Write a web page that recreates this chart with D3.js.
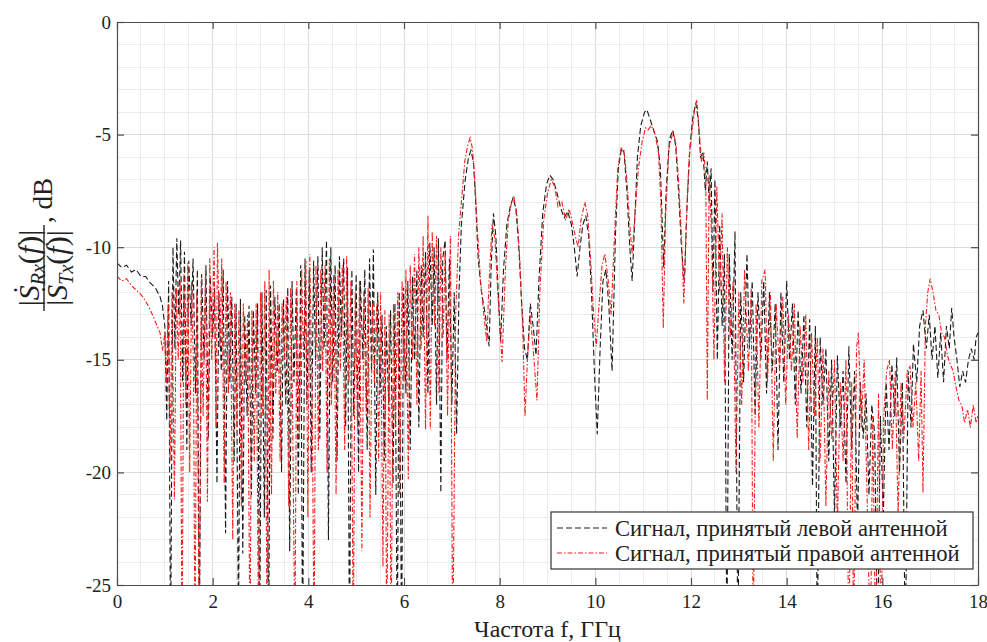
<!DOCTYPE html>
<html>
<head>
<meta charset="utf-8">
<script src="https://cdn.jsdelivr.net/npm/d3@7"></script>
<style>
  body { margin: 0; background: #fff; }
  svg text { font-family: "Liberation Serif", "Times New Roman", "DejaVu Serif", serif; }
</style>
</head>
<body>
<script>
// values: [frequency GHz, level dB]; -28 = dip below the axis
const leftAntenna = [
  [0,-10.7],[0.1,-10.9],[0.2,-10.8],[0.3,-11.1],[0.4,-11.0],[0.5,-11.3],[0.6,-11.3],[0.7,-11.6],[0.8,-11.8],[0.9,-12.2],[0.95,-12.6],
  [1.0,-13.5],[1.04,-17.7],[1.08,-11.5],[1.12,-28],[1.17,-10.0],[1.21,-14.5],[1.25,-9.6],[1.29,-13.0],[1.33,-9.7],[1.37,-16.0],
  [1.41,-10.2],[1.46,-19.0],[1.5,-10.6],[1.55,-13.5],[1.59,-10.5],[1.64,-16.5],[1.68,-11.0],[1.72,-28],[1.77,-11.2],[1.82,-15.0],
  [1.86,-10.8],[1.91,-18.5],[1.95,-11.3],[2.0,-14.0],[2.04,-11.8],[2.09,-20.5],[2.13,-12.0],[2.18,-15.5],[2.22,-11.0],[2.27,-22.7],
  [2.31,-11.5],[2.36,-16.0],[2.4,-12.2],[2.45,-19.5],[2.49,-12.5],[2.54,-27],[2.58,-12.3],[2.63,-23.6],[2.67,-13.0],[2.72,-17.5],
  [2.76,-12.6],[2.81,-21.0],[2.85,-12.8],[2.9,-16.5],[2.94,-12.5],[2.98,-28],[3.03,-12.0],[3.08,-22.0],[3.12,-11.9],[3.17,-28],
  [3.21,-11.7],[3.26,-18.5],[3.3,-12.2],[3.35,-15.5],[3.39,-12.5],[3.44,-20.0],[3.48,-12.3],[3.53,-17.0],[3.57,-11.8],[3.61,-23.5],
  [3.66,-11.5],[3.7,-16.0],[3.75,-11.8],[3.79,-21.0],[3.84,-10.8],[3.88,-28],[3.93,-10.5],[3.97,-17.0],[4.02,-11.0],[4.06,-20.0],
  [4.11,-10.6],[4.15,-15.0],[4.2,-10.4],[4.24,-18.5],[4.29,-10.0],[4.33,-14.5],[4.38,-9.7],[4.42,-23.0],[4.47,-10.0],[4.51,-16.0],
  [4.56,-10.8],[4.6,-19.5],[4.65,-10.4],[4.69,-14.0],[4.74,-10.5],[4.78,-18.0],[4.82,-10.9],[4.86,-28],[4.91,-11.0],[4.95,-17.5],
  [5.0,-11.2],[5.05,-20.0],[5.09,-11.5],[5.14,-15.0],[5.18,-11.0],[5.23,-19.0],[5.28,-10.5],[5.32,-15.5],[5.36,-10.1],[5.41,-21.0],
  [5.45,-12.0],[5.5,-16.5],[5.54,-13.0],[5.59,-19.5],[5.63,-13.5],[5.68,-17.0],[5.72,-12.8],[5.77,-20.5],[5.81,-12.5],[5.86,-28],
  [5.9,-12.0],[5.95,-28],[5.99,-11.8],[6.04,-16.5],[6.08,-11.5],[6.13,-19.0],[6.18,-11.3],[6.22,-15.0],[6.27,-11.0],[6.31,-18.0],
  [6.36,-10.8],[6.4,-14.0],[6.45,-10.2],[6.5,-16.5],[6.54,-9.8],[6.59,-13.5],[6.63,-10.0],[6.68,-17.0],[6.72,-9.6],[6.77,-20.9],
  [6.81,-10.5],[6.86,-9.7],[6.9,-15.0],[6.95,-10.5],[7.0,-17.0],[7.05,-12.0],[7.1,-18.3],[7.15,-12.0],
  [7.2,-9.0],[7.28,-7.0],[7.35,-6.0],[7.4,-5.7],[7.45,-6.2],[7.5,-8.0],[7.55,-10.5],[7.62,-12.0],[7.7,-13.0],[7.78,-14.4],
  [7.82,-11.0],[7.87,-8.5],[7.92,-9.5],[7.97,-12.0],[8.02,-14.2],[8.08,-11.0],[8.15,-9.0],[8.22,-8.2],[8.28,-7.8],[8.34,-8.3],
  [8.4,-10.0],[8.46,-12.5],[8.52,-14.5],[8.58,-15.0],[8.64,-12.5],[8.7,-13.5],[8.76,-14.8],[8.82,-11.5],[8.9,-8.5],[8.98,-7.2],
  [9.05,-6.8],[9.12,-7.0],[9.2,-7.6],[9.28,-8.3],[9.35,-8.7],[9.42,-8.4],[9.5,-9.0],[9.56,-10.0],[9.62,-11.3],[9.68,-10.0],
  [9.74,-9.0],[9.8,-8.6],[9.86,-9.5],[9.92,-12.0],[9.98,-15.5],[10.04,-18.3],[10.1,-14.5],[10.16,-11.5],[10.22,-11.0],[10.28,-12.5],
  [10.35,-15.5],[10.42,-9.5],[10.48,-6.5],[10.55,-5.6],[10.6,-5.8],[10.66,-7.5],[10.72,-10.0],[10.77,-11.5],[10.82,-9.0],[10.88,-6.0],
  [10.95,-4.6],[11.03,-4.0],[11.08,-3.9],[11.14,-4.3],[11.22,-4.8],[11.3,-5.3],[11.36,-6.5],[11.4,-9.0],[11.43,-10.9],[11.48,-7.5],
  [11.55,-5.2],[11.62,-4.8],[11.68,-5.5],[11.74,-7.5],[11.8,-10.0],[11.86,-11.6],[11.92,-8.0],[11.98,-5.5],[12.04,-4.2],[12.1,-3.6],
  [12.15,-4.3],[12.2,-6.0],[12.25,-5.8],[12.3,-7.5],[12.34,-6.2],[12.38,-8.0],[12.42,-6.5],[12.46,-12.0],[12.5,-7.0],[12.55,-15.0],
  [12.6,-9.0],[12.65,-13.5],[12.7,-10.3],[12.75,-28],[12.8,-10.3],[12.86,-15.0],[12.92,-9.3],[12.98,-28],[13.04,-12.0],[13.1,-16.0],
  [13.17,-10.3],[13.22,-14.5],[13.28,-11.5],[13.34,-17.5],[13.4,-12.0],[13.46,-15.0],[13.52,-11.5],[13.58,-16.5],[13.64,-12.0],[13.7,-15.5],
  [13.76,-12.5],[13.82,-19.0],[13.88,-12.0],[13.94,-16.0],[14.0,-11.5],[14.06,-15.0],[14.12,-12.5],[14.18,-17.0],[14.24,-12.8],[14.3,-16.5],
  [14.36,-13.0],[14.42,-18.0],[14.48,-13.2],[14.54,-20.6],[14.6,-13.5],[14.64,-28],[14.7,-14.0],[14.76,-17.0],[14.82,-14.5],[14.88,-19.5],
  [14.94,-15.0],[15.0,-22.0],[15.06,-14.8],[15.12,-18.0],[15.18,-15.5],[15.24,-20.5],[15.3,-14.4],[15.36,-19.0],[15.42,-15.5],[15.48,-22.5],
  [15.54,-16.0],[15.6,-18.5],[15.66,-16.5],[15.72,-21.0],[15.78,-17.0],[15.84,-18.3],[15.9,-28],[15.96,-17.5],[16.02,-22.0],[16.08,-16.0],
  [16.14,-19.0],[16.2,-15.2],[16.26,-17.5],[16.3,-14.9],[16.36,-20.0],[16.42,-16.0],[16.48,-28],[16.54,-15.5],[16.6,-18.0],[16.65,-14.3],
  [16.72,-16.0],[16.78,-13.5],[16.85,-12.8],[16.92,-14.5],[16.98,-13.0],[17.04,-15.0],[17.1,-13.5],[17.16,-15.8],[17.22,-13.8],[17.28,-16.0],
  [17.34,-13.5],[17.4,-14.5],[17.45,-12.7],[17.5,-14.0],[17.56,-15.0],[17.62,-16.2],[17.68,-15.5],[17.74,-16.0],[17.8,-15.0],[17.86,-14.5],
  [17.92,-15.0],[17.96,-14.0],[18.0,-13.8]
];

const rightAntenna = [
  [0,-11.3],[0.1,-11.5],[0.2,-11.4],[0.3,-11.7],[0.4,-11.9],[0.5,-12.1],[0.6,-12.4],[0.7,-12.8],[0.8,-13.3],[0.9,-13.8],[0.95,-14.6],
  [1.0,-13.8],[1.03,-16.0],[1.07,-12.5],[1.11,-19.5],[1.15,-12.0],[1.2,-21.2],[1.24,-11.8],[1.28,-15.0],[1.32,-11.5],[1.36,-28],
  [1.4,-11.2],[1.44,-17.0],[1.48,-10.7],[1.52,-20.0],[1.56,-11.5],[1.6,-15.5],[1.63,-28],[1.67,-12.0],[1.72,-28],[1.76,-11.5],
  [1.8,-17.5],[1.85,-11.0],[1.89,-21.3],[1.94,-10.5],[1.98,-15.0],[2.03,-10.0],[2.07,-18.0],[2.1,-9.8],[2.15,-14.5],[2.19,-10.5],
  [2.24,-20.5],[2.28,-11.5],[2.33,-16.5],[2.37,-12.0],[2.42,-23.0],[2.46,-12.5],[2.51,-18.0],[2.55,-12.8],[2.6,-21.5],[2.64,-12.5],
  [2.69,-16.0],[2.73,-13.0],[2.78,-28],[2.82,-12.8],[2.87,-19.5],[2.91,-12.5],[2.96,-28],[3.0,-12.0],[3.05,-17.5],[3.09,-11.5],
  [3.14,-28],[3.18,-11.0],[3.23,-21.0],[3.27,-11.5],[3.32,-16.5],[3.36,-12.0],[3.41,-19.5],[3.45,-12.5],[3.5,-15.0],[3.54,-12.2],
  [3.59,-21.5],[3.63,-11.8],[3.67,-17.0],[3.72,-28],[3.76,-11.5],[3.81,-18.5],[3.86,-11.0],[3.9,-15.0],[3.95,-10.6],[3.99,-22.0],
  [4.03,-10.3],[4.08,-16.5],[4.12,-28],[4.16,-10.8],[4.21,-19.0],[4.26,-11.0],[4.3,-15.5],[4.35,-10.8],[4.39,-20.0],[4.44,-10.5],
  [4.48,-17.0],[4.53,-11.2],[4.58,-21.0],[4.62,-11.0],[4.67,-15.5],[4.71,-10.8],[4.76,-19.0],[4.8,-10.4],[4.85,-16.0],[4.89,-11.5],
  [4.94,-28],[4.98,-12.0],[5.03,-18.0],[5.07,-11.5],[5.12,-23.5],[5.16,-12.0],[5.21,-17.5],[5.25,-11.8],[5.29,-22.0],[5.34,-12.5],
  [5.38,-16.0],[5.43,-12.5],[5.47,-19.5],[5.51,-12.0],[5.56,-24.2],[5.6,-12.8],[5.64,-28],[5.69,-13.0],[5.73,-28],[5.78,-12.5],
  [5.82,-18.0],[5.87,-12.0],[5.91,-21.0],[5.96,-11.5],[6.0,-16.0],[6.04,-11.0],[6.09,-20.3],[6.13,-10.8],[6.18,-15.0],[6.22,-10.3],
  [6.27,-17.0],[6.31,-10.0],[6.36,-14.5],[6.4,-9.5],[6.45,-18.1],[6.5,-8.6],[6.55,-18.1],[6.59,-9.3],[6.64,-13.5],[6.68,-9.5],
  [6.73,-16.5],[6.77,-10.0],[6.82,-14.0],[6.86,-10.2],[6.91,-17.5],[6.97,-9.5],[7.02,-28],[7.08,-13.0],[7.14,-9.5],
  [7.2,-8.0],[7.27,-6.2],[7.33,-5.5],[7.38,-5.15],[7.43,-5.6],[7.48,-7.0],[7.53,-9.0],[7.6,-11.5],[7.67,-13.0],[7.73,-14.2],
  [7.78,-11.5],[7.84,-9.0],[7.9,-9.6],[7.96,-12.0],[8.05,-15.1],[8.12,-11.0],[8.18,-8.8],[8.24,-8.1],[8.3,-7.8],[8.36,-8.5],
  [8.42,-10.5],[8.48,-13.5],[8.53,-17.5],[8.58,-15.0],[8.64,-13.0],[8.7,-14.5],[8.78,-16.8],[8.84,-12.0],[8.92,-8.8],[9.0,-7.6],
  [9.08,-7.0],[9.15,-7.3],[9.22,-8.2],[9.3,-8.0],[9.38,-8.8],[9.45,-8.3],[9.52,-8.9],[9.58,-9.5],[9.64,-10.0],[9.7,-8.8],
  [9.78,-8.0],[9.84,-8.6],[9.9,-10.5],[9.96,-12.8],[10.02,-14.4],[10.08,-12.5],[10.14,-10.8],[10.2,-10.3],[10.27,-11.5],[10.33,-13.0],
  [10.4,-9.5],[10.47,-6.5],[10.54,-5.6],[10.6,-5.7],[10.66,-7.0],[10.72,-9.0],[10.77,-10.3],[10.83,-8.5],[10.9,-6.5],[10.98,-5.3],
  [11.05,-4.7],[11.1,-4.8],[11.17,-4.6],[11.25,-5.0],[11.32,-5.8],[11.37,-8.0],[11.42,-13.6],[11.47,-8.5],[11.54,-5.6],[11.62,-4.9],
  [11.68,-5.3],[11.74,-7.0],[11.8,-9.5],[11.85,-12.5],[11.9,-9.0],[11.96,-6.0],[12.03,-4.7],[12.08,-3.8],[12.12,-3.45],[12.17,-4.8],
  [12.22,-6.2],[12.27,-5.8],[12.31,-7.0],[12.34,-16.8],[12.38,-6.8],[12.43,-9.5],[12.48,-15.0],[12.54,-7.3],[12.6,-12.0],[12.65,-8.5],
  [12.7,-16.0],[12.76,-10.0],[12.82,-14.0],[12.88,-11.5],[12.94,-20.0],[13.0,-12.0],[13.06,-17.0],[13.12,-11.0],[13.2,-15.5],[13.26,-11.8],
  [13.3,-28],[13.36,-12.5],[13.42,-18.0],[13.48,-11.5],[13.55,-11.0],[13.6,-16.0],[13.66,-12.0],[13.72,-19.5],[13.78,-12.5],[13.85,-15.5],
  [13.92,-12.2],[13.98,-17.0],[14.04,-13.0],[14.1,-15.5],[14.16,-12.5],[14.22,-18.5],[14.28,-13.5],[14.34,-16.0],[14.4,-13.0],[14.46,-19.0],
  [14.52,-13.8],[14.58,-17.5],[14.64,-14.0],[14.7,-19.5],[14.76,-14.5],[14.82,-21.5],[14.88,-15.5],[14.94,-18.5],[15.0,-15.0],[15.06,-22.5],
  [15.12,-16.0],[15.18,-19.5],[15.24,-15.0],[15.3,-28],[15.36,-16.0],[15.4,-28],[15.46,-14.5],[15.5,-13.8],[15.56,-18.0],[15.62,-15.0],
  [15.68,-21.0],[15.75,-28],[15.8,-17.5],[15.86,-28],[15.92,-16.5],[15.97,-28],[16.03,-17.5],[16.09,-15.5],[16.15,-15.0],[16.21,-19.0],
  [16.27,-15.5],[16.33,-22.0],[16.39,-16.0],[16.45,-18.5],[16.52,-15.5],[16.58,-15.3],[16.64,-18.0],[16.7,-16.0],[16.76,-19.5],[16.81,-15.5],
  [16.85,-20.9],[16.9,-13.5],[16.95,-12.0],[17.0,-11.4],[17.06,-12.0],[17.12,-12.8],[17.18,-13.0],[17.24,-13.8],[17.3,-14.0],[17.36,-14.8],
  [17.42,-15.2],[17.48,-15.5],[17.54,-16.2],[17.6,-16.8],[17.66,-17.0],[17.72,-17.8],[17.78,-17.2],[17.84,-18.0],[17.9,-17.0],[17.96,-17.8],
  [18.0,-17.5]
];

const xTicks = [0, 2, 4, 6, 8, 10, 12, 14, 16, 18];
const yTicks = [0, -5, -10, -15, -20, -25];
const legendLabels = ['Сигнал, принятый левой антенной', 'Сигнал, принятый правой антенной'];
const xTitle = 'Частота f, ГГц';

const W = 987, H = 642;
const plotL = 117, plotR = 978, plotT = 22, plotB = 585;
const serif = '"Liberation Serif", "Times New Roman", "DejaVu Serif", serif';

const svg = d3.select('body').append('svg')
  .attr('width', W)
  .attr('height', H);

const x = d3.scaleLinear().domain([0, 18]).range([plotL, plotR]);
const y = d3.scaleLinear().domain([-25, 0]).range([plotB, plotT]);

// minor grid (0.5 GHz, 1 dB), major lines a touch darker
const gridG = svg.append('g');
gridG.selectAll('.gx')
  .data(d3.range(0, 18.01, 0.5))
  .enter().append('line')
  .attr('x1', d => x(d)).attr('x2', d => x(d))
  .attr('y1', plotT).attr('y2', plotB)
  .attr('stroke', d => d % 2 === 0 ? '#dcdcdc' : '#ececec')
  .attr('stroke-width', 1)
  .attr('shape-rendering', 'crispEdges');
gridG.selectAll('.gy')
  .data(d3.range(-25, 0.01, 1))
  .enter().append('line')
  .attr('y1', d => y(d)).attr('y2', d => y(d))
  .attr('x1', plotL).attr('x2', plotR)
  .attr('stroke', d => d % 5 === 0 ? '#dcdcdc' : '#ececec')
  .attr('stroke-width', 1)
  .attr('shape-rendering', 'crispEdges');

svg.append('clipPath').attr('id', 'plotClip')
  .append('rect')
  .attr('x', plotL).attr('y', plotT)
  .attr('width', plotR - plotL).attr('height', plotB - plotT);

const line = d3.line()
  .x(d => x(d[0]))
  .y(d => y(d[1]));

const plot = svg.append('g').attr('clip-path', 'url(#plotClip)');

plot.append('path')
  .datum(leftAntenna)
  .attr('fill', 'none')
  .attr('stroke', '#1a1a1a')
  .attr('stroke-width', 1.1)
  .attr('stroke-dasharray', '6,3')
  .attr('d', line);

plot.append('path')
  .datum(rightAntenna)
  .attr('fill', 'none')
  .attr('stroke', '#ff1a1a')
  .attr('stroke-width', 1.1)
  .attr('stroke-dasharray', '5,2,1.5,2')
  .attr('d', line);

// axes, inward ticks on all four sides
const axisColor = '#4d4d4d';
function styleAxis(g) {
  g.attr('font-family', null);
  g.select('.domain').attr('stroke', axisColor).attr('stroke-width', 1.2);
  g.selectAll('.tick line').attr('stroke', axisColor).attr('stroke-width', 1.2);
  g.selectAll('.tick text')
    .attr('fill', '#222')
    .style('font-family', serif)
    .style('font-size', '19px');
}

svg.append('g')
  .attr('transform', 'translate(0,' + plotB + ')')
  .call(d3.axisBottom(x).tickValues(xTicks).tickFormat(d3.format('d'))
    .tickSizeInner(-7).tickSizeOuter(0).tickPadding(10))
  .call(styleAxis);

svg.append('g')
  .attr('transform', 'translate(0,' + plotT + ')')
  .call(d3.axisTop(x).tickValues(xTicks).tickFormat('')
    .tickSizeInner(-7).tickSizeOuter(0))
  .call(styleAxis);

svg.append('g')
  .attr('transform', 'translate(' + plotL + ',0)')
  .call(d3.axisLeft(y).tickValues(yTicks).tickFormat(d => d === 0 ? '0' : '-' + Math.abs(d))
    .tickSizeInner(-7).tickSizeOuter(0).tickPadding(6))
  .call(styleAxis);

svg.append('g')
  .attr('transform', 'translate(' + plotR + ',0)')
  .call(d3.axisRight(y).tickValues(yTicks).tickFormat('')
    .tickSizeInner(-7).tickSizeOuter(0))
  .call(styleAxis);

// x title
svg.append('text')
  .attr('x', (plotL + plotR) / 2)
  .attr('y', 637)
  .attr('text-anchor', 'middle')
  .attr('font-size', 24)
  .attr('fill', '#222')
  .text(xTitle);

// y title: |S_Rx(f)| / |S_Tx(f)|, dB
const yl = svg.append('g')
  .attr('transform', 'translate(44,268) rotate(-90)')
  .attr('fill', '#222')
  .attr('font-size', 30);

function fracPart(sub, dy) {
  const t = yl.append('text')
    .attr('x', 0).attr('y', dy)
    .attr('text-anchor', 'middle');
  t.append('tspan').text('|');
  t.append('tspan').attr('font-style', 'italic').text('\u1E60');
  t.append('tspan').attr('font-style', 'italic').attr('font-size', 20).attr('dy', 6).text(sub);
  t.append('tspan').attr('dy', -6).text('(');
  t.append('tspan').attr('font-style', 'italic').text('f');
  t.append('tspan').text(')|');
}
fracPart('Rx', -5);
fracPart('Tx', 23);
yl.append('line')
  .attr('x1', -43).attr('x2', 43)
  .attr('y1', 0).attr('y2', 0)
  .attr('stroke', '#222').attr('stroke-width', 1.4);
yl.append('text')
  .attr('x', 45).attr('y', 8)
  .attr('font-size', 27)
  .text(', dB');

// legend
const lg = svg.append('g');
lg.append('rect')
  .attr('x', 551).attr('y', 512)
  .attr('width', 422).attr('height', 57)
  .attr('fill', '#fff')
  .attr('stroke', '#333')
  .attr('stroke-width', 1.2);

const legendStyles = [
  { stroke: '#1a1a1a', dash: '6,3' },
  { stroke: '#ff1a1a', dash: '5,2,1.5,2' }
];
legendLabels.forEach((lab, i) => {
  const cy = 528 + i * 25;
  lg.append('line')
    .attr('x1', 557).attr('x2', 607)
    .attr('y1', cy).attr('y2', cy)
    .attr('stroke', legendStyles[i].stroke)
    .attr('stroke-width', 1.1)
    .attr('stroke-dasharray', legendStyles[i].dash);
  lg.append('text')
    .attr('x', 615).attr('y', cy + 8)
    .attr('font-size', 22.6)
    .attr('fill', '#222')
    .text(lab);
});
</script>
</body>
</html>
